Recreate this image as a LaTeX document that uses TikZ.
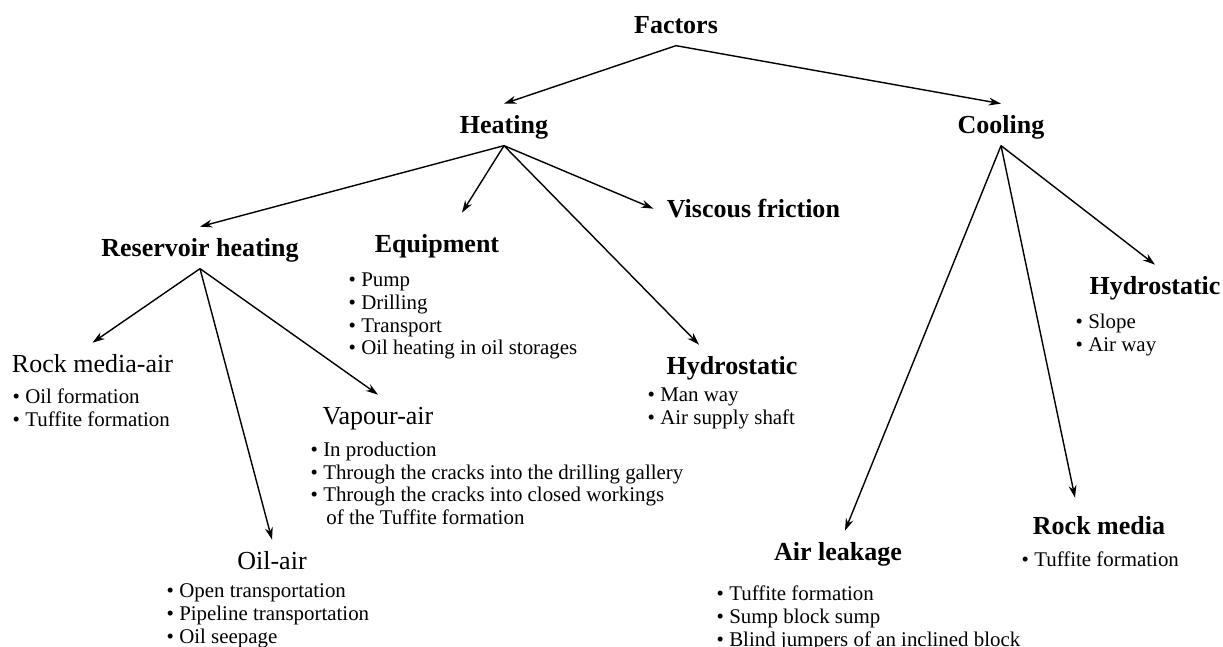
\documentclass[tikz,border=0pt]{standalone}
\usepackage{fontspec}
\setmainfont{Liberation Serif}
\usetikzlibrary{arrows.meta}
\newcommand{\bul}{\textbullet\ }

\begin{document}
\begin{tikzpicture}[>={Stealth[length=7pt,width=4.5pt]}, line width=0.8pt,
	head/.style={font=\fontsize{14.8pt}{17pt}\selectfont\bfseries, inner sep=1.5pt, text height=14.8pt, text depth=5.3pt, anchor=base},
	plainhead/.style={head, font=\fontsize{14.8pt}{17pt}\selectfont},
	items/.style={font=\fontsize{11.9pt}{13pt}\selectfont, align=left, inner sep=0pt, anchor=north west}]
				\useasboundingbox (0,0) rectangle (24.46,-12.92);
				% headings
				\node[head] (factors) at (13.52, -0.66) {Factors};
				\node[head] (heating) at (10.08, -2.66) {Heating};
				\node[head] (cooling) at (20.02, -2.66) {Cooling};
				\node[head, anchor=base west] (visc) at (13.27, -4.34) {Viscous friction};
				\node[head] (reserv) at (4.00, -5.12) {Reservoir heating};
				\node[head] (equip) at (8.74, -5.04) {Equipment};
				\node[plainhead] (rockair) at (1.85, -7.44) {Rock media-air};
				\node[plainhead] (vapour) at (7.56, -8.48) {Vapour-air};
				\node[plainhead] (oilair) at (5.44, -11.38) {Oil-air};
				\node[head] (hydroH) at (14.64, -7.48) {Hydrostatic};
				\node[head] (hydroC) at (23.10, -5.88) {Hydrostatic};
				\node[head] (airleak) at (16.76, -11.20) {Air leakage};
				\node[head] (rockm) at (21.98, -10.68) {Rock media};
				% lists
				\node[items] (equipL) at (6.96, -5.44) {\bul Pump\\ \bul Drilling\\ \bul Transport\\ \bul Oil heating in oil storages};
				\node[items] (rockairL) at (0.24, -7.76) {\bul Oil formation\\ \bul Tuffite formation};
				\node[items] (vapourL) at (6.20, -8.82) {\bul In production\\ \bul Through the cracks into the drilling gallery\\ \bul Through the cracks into closed workings\\ \hspace*{0.75em}of the Tuffite formation};
				\node[items] (oilairL) at (3.32, -11.66) {\bul Open transportation\\ \bul Pipeline transportation\\ \bul Oil seepage};
				\node[items] (hydroHL) at (12.94, -7.74) {\bul Man way\\ \bul Air supply shaft};
				\node[items] (hydroCL) at (21.50, -6.26) {\bul Slope\\ \bul Air way};
				\node[items] (airleakL) at (14.32, -11.70) {\bul Tuffite formation\\ \bul Sump block sump\\ \bul Blind jumpers of an inclined block};
				\node[items] (rockmL) at (20.42, -11.02) {\bul Tuffite formation};
				% arrows
				\draw[->] (factors.south) to (heating.north);
				\draw[->] (factors.south) to (cooling.north);
				\draw[->] (heating.south) to (reserv.north);
				\draw[->] (heating.south) to ([xshift=0.5cm, yshift=0.2cm]equip.north);
				\draw[->] (heating.south) to ([xshift=-0.2cm]visc.west);
				\draw[->] (heating.south) to ([xshift=-0.66cm]hydroH.north);
				\draw[->] (cooling.south) to (hydroC.north);
				\draw[->] (cooling.south) to ([xshift=0.14cm]airleak.north);
				\draw[->] (cooling.south) to ([xshift=-0.48cm, yshift=0.14cm]rockm.north);
				\draw[->] (reserv.south) to (rockair.north);
				\draw[->] (reserv.south) to (oilair.north);
				\draw[->] (reserv.south) to (vapour.north);
			\end{tikzpicture}
\end{document}
